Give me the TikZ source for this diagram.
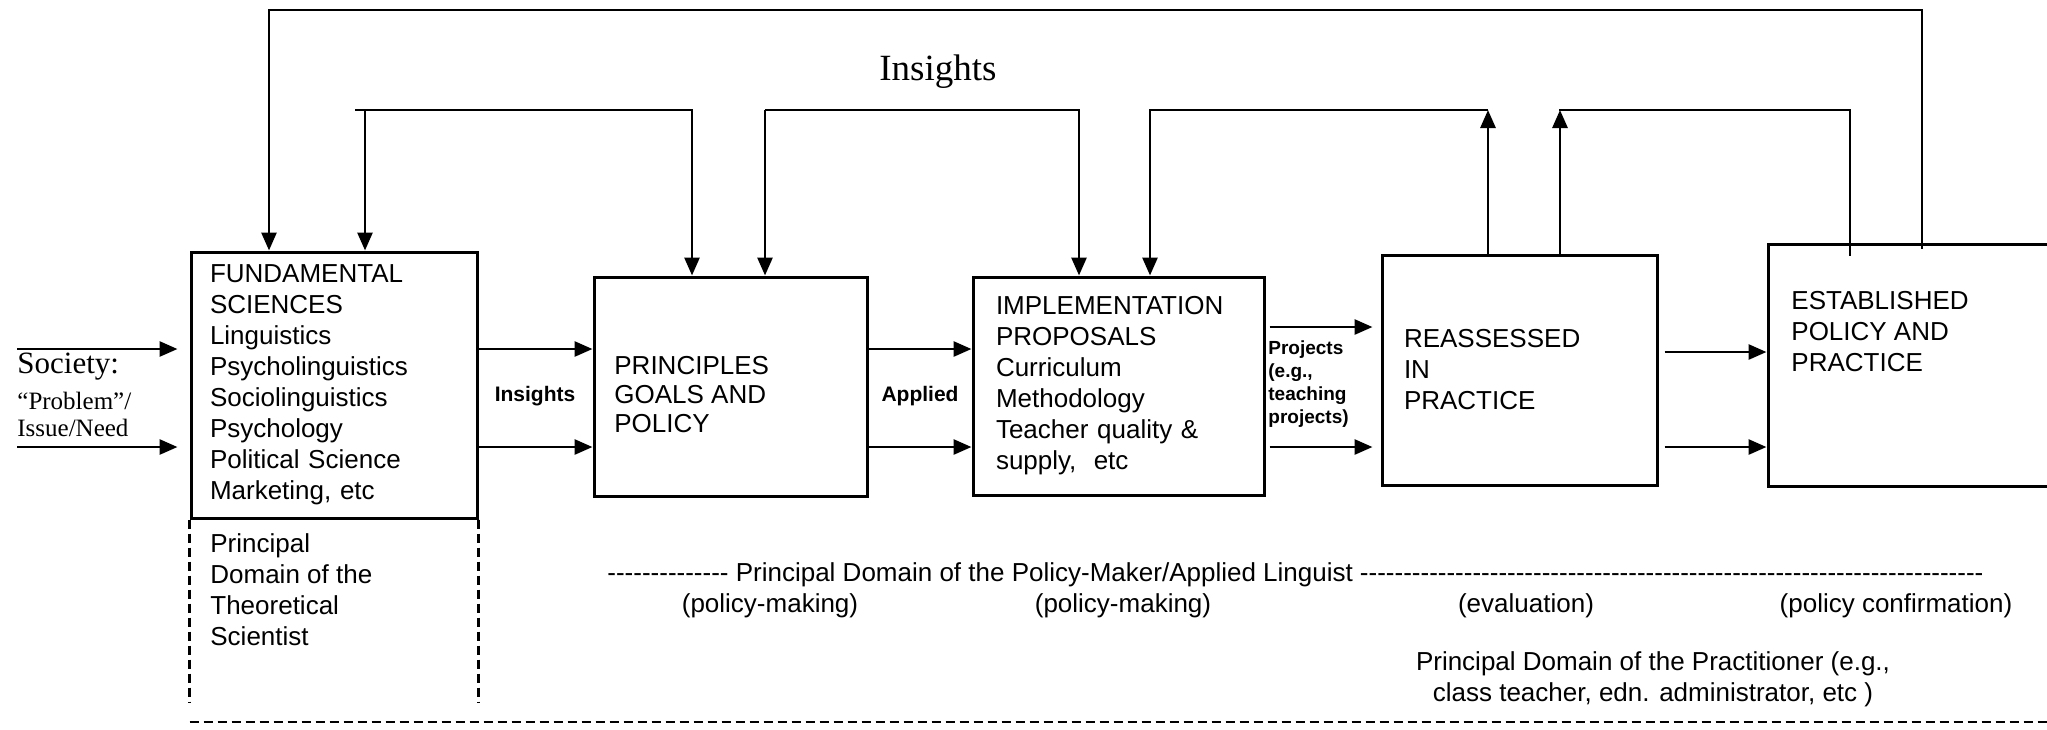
\documentclass[tikz,border=0pt]{standalone}
\usepackage{fontspec}
\setmainfont{Liberation Sans}
\newfontfamily\serifface{Liberation Serif}
\usepackage{tikz}
\usetikzlibrary{arrows.meta, positioning}
\newcommand{\dashrun}[1]{\foreach \k in {1,...,#1}{-\kern0pt}}

\begin{document}
\begin{tikzpicture}[
    x=0.5pt, y=-0.5pt,
    box/.style={draw, line width=1.5pt, align=left, inner ysep=0pt, font=\fontsize{13}{15.5}\selectfont},
    boxtext/.style={align=left, inner sep=0pt, font=\fontsize{13}{15.5}\selectfont},
    arrow/.style={-{Triangle[length=9pt,width=7.5pt]}, line width=1.4pt},
    link/.style={line width=1.4pt, line cap=rect},
    smalltag/.style={inner sep=0pt, font=\bfseries\fontsize{10.5}{12}\selectfont},
    bottomtext/.style={inner sep=0pt, align=left, font=\fontsize{13}{15.5}\selectfont},
    zoneline/.style={line width=1.2pt, dash pattern=on 4.5pt off 2.5pt}
]
\clip (0,0) rectangle (2047,729);

% Boxes
\node[box, minimum height=133pt, inner xsep=9.5pt, text width=124pt] (fund) at (334,385) {FUNDAMENTAL\\SCIENCES\\Linguistics\\Psycholinguistics\\Sociolinguistics\\Psychology\\Political Science\\Marketing, etc};
\node[box, minimum width=136.5pt, minimum height=109.5pt] (princ) at (730.5,386.5) {};
\node[boxtext, anchor=west, font=\fontsize{13}{14.5}\selectfont] (princtext) at (614,395) {PRINCIPLES\\GOALS AND\\POLICY};
\node[box, minimum height=109pt, inner xsep=11.5pt, text width=122.5pt] (impl) at (1118.5,386) {IMPLEMENTATION\\PROPOSALS\\Curriculum\\Methodology\\Teacher quality \&\\supply,~ etc};
\node[box, minimum height=115pt, inner xsep=11pt, text width=115.5pt] (reass) at (1519.5,370) {REASSESSED\\IN\\PRACTICE};
\node[box, minimum width=171pt, minimum height=121pt] (estab) at (1939,365) {};
\node[boxtext, anchor=west] (estabtext) at (1791,332) {ESTABLISHED\\POLICY AND\\PRACTICE};

% Rows of the horizontal arrows
\coordinate (rowA) at (0,349);
\coordinate (rowB) at (0,447);
\coordinate (rowC) at (0,327);
\coordinate (rowD) at (0,352);
\coordinate (society) at (17,0);

% Society input
\node[inner sep=0pt, anchor=base west, font=\serifface\fontsize{15.5}{17}\selectfont] (societytext) at (17,373) {Society:};
\node[inner sep=0pt, anchor=west, align=left, font=\serifface\fontsize{12.5}{13.5}\selectfont] (needtext) at (17,414) {“Problem”/\\Issue/Need};
\draw[arrow] (society |- rowA) -- ([xshift=-6pt]fund.west |- rowA);
\draw[arrow] (society |- rowB) -- ([xshift=-6pt]fund.west |- rowB);

% Forward arrows
\draw[arrow] (fund.east |- rowA) -- (princ.west |- rowA);
\draw[arrow] (fund.east |- rowB) -- (princ.west |- rowB);
\draw[arrow] (princ.east |- rowA) -- (impl.west |- rowA);
\draw[arrow] (princ.east |- rowB) -- (impl.west |- rowB);
\draw[arrow] ([xshift=2pt]impl.east |- rowC) -- ([xshift=-4pt]reass.west |- rowC);
\draw[arrow] ([xshift=2pt]impl.east |- rowB) -- ([xshift=-4pt]reass.west |- rowB);
\draw[arrow] ([xshift=3pt]reass.east |- rowD) -- (estab.west |- rowD);
\draw[arrow] ([xshift=3pt]reass.east |- rowB) -- (estab.west |- rowB);

\node[smalltag] (insightsmid) at (535,396) {Insights};
\node[smalltag] (applied) at (920,396) {Applied};
\node[smalltag, align=left, anchor=west, font=\bfseries\fontsize{9.5}{11.5}\selectfont] (projects) at (1268,384) {Projects\\(e.g.,\\teaching\\projects)};

% Outer feedback loop
\coordinate (topleft) at (269,10);
\coordinate (topright) at (1922,10);
\draw[arrow] ([yshift=-3pt]estab.north -| topright) -- (topright) -- (topleft) -- (fund.north -| topleft);

% Insight loops
\coordinate (loopAa) at (365,110);
\coordinate (loopAb) at (692,110);
\draw[arrow] (loopAa) -- (fund.north -| loopAa);
\draw[arrow] ([xshift=-5pt]loopAa) -- (loopAb) -- (princ.north -| loopAb);

\coordinate (loopBa) at (765,110);
\coordinate (loopBb) at (1079,110);
\draw[arrow] (loopBa) -- (princ.north -| loopBa);
\draw[arrow] (loopBa) -- (loopBb) -- (impl.north -| loopBb);

\coordinate (loopCa) at (1150,110);
\coordinate (loopCb) at (1488,110);
\draw[arrow] (loopCb) -- (loopCa) -- (impl.north -| loopCa);
\draw[arrow] (reass.north -| loopCb) -- (loopCb);

\coordinate (loopDa) at (1560,110);
\coordinate (loopDb) at (1850,110);
\draw[arrow] (reass.north -| loopDa) -- (loopDa);
\draw[link] (loopDa) -- (loopDb) -- ([yshift=-6pt]estab.north -| loopDb);

\node[font=\serifface\fontsize{18.5}{22}\selectfont] (insightstop) at (938,72) {Insights};

% Domains
\coordinate (zoneend) at (0,702);
\coordinate (bottomline) at (2047,722);
\draw[zoneline] (fund.south west) -- (fund.south west |- zoneend);
\draw[zoneline] (fund.south east) -- (fund.south east |- zoneend);
\draw[zoneline] (fund.west |- bottomline) -- (bottomline);

\node[bottomtext, anchor=west] (theorist) at (210,590) {Principal\\Domain of the\\Theoretical\\Scientist};
\node[bottomtext, anchor=base west] (policymaker) at (607,581) {\dashrun{14} Principal Domain of the Policy-Maker/Applied Linguist \dashrun{72}};
\node[bottomtext, anchor=base] (makingA) at (770,612) {(policy-making)};
\node[bottomtext, anchor=base] (makingB) at (1123,612) {(policy-making)};
\node[bottomtext, anchor=base] (evaluation) at (1526,612) {(evaluation)};
\node[bottomtext, anchor=base] (confirmation) at (1896,612) {(policy confirmation)};
\node[bottomtext, align=center] (practitioner) at (1653,679) {Principal Domain of the Practitioner (e.g.,\\class teacher, edn. administrator, etc )};
\end{tikzpicture}
\end{document}
